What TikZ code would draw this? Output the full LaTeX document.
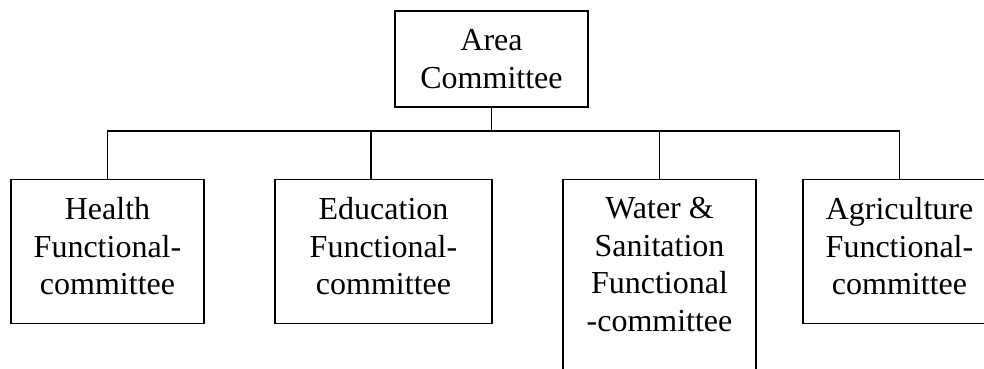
\documentclass[tikz,border=0pt]{standalone}
\usepackage{fontspec}
\setmainfont{Liberation Serif}
\usepackage{tikz}
\usetikzlibrary{positioning}

\begin{document}
\begin{tikzpicture}[
    x=1pt, y=-1pt,
    unit/.style={
      draw, line width=1.4pt, anchor=north, inner sep=0pt,
      minimum width=193pt, minimum height=144pt
    },
    head/.style={unit, anchor=center, minimum height=96pt,
      align=center, font=\fontsize{32}{37.5}\selectfont},
    caption/.style={inner sep=0pt, align=center, font=\fontsize{32}{37.5}\selectfont},
    wire/.style={line width=1.4pt},
  ]
    \path[use as bounding box, clip] (0,0) rectangle (984,368);

    \node[head](area) at (491.5, 59) {Area\\Committee};

    \node[unit](health) at (107.5, 179) {};
    \node[caption, below=18.5pt of health.north](health_txt){Health\\Functional-\\committee};

    \node[unit, minimum width=217pt](edu) at (383.5, 179) {};
    \node[caption, below=18.5pt of edu.north](edu_txt){Education\\Functional-\\committee};

    \node[unit, minimum height=200pt](water) at (659.5, 179) {};
    \node[caption, below=18.5pt of water.north](water_txt){Water \&\\Sanitation\\Functional\\-committee};

    \node[unit](agri) at (899.5, 179) {};
    \node[caption, below=18.5pt of agri.north](agri_txt){Agriculture\\Functional-\\committee};

    \coordinate (bus) at (491.5, 131);

    \draw[wire] (area.south) -- (bus);
    \draw[wire] (health.north) |- (bus) -| (agri.north);
    \draw[wire] ([xshift=-12.5pt]edu.north) -- ([xshift=-12.5pt]edu.north |- bus);
    \draw[wire] (water.north) -- (water.north |- bus);

  \end{tikzpicture}
\end{document}
